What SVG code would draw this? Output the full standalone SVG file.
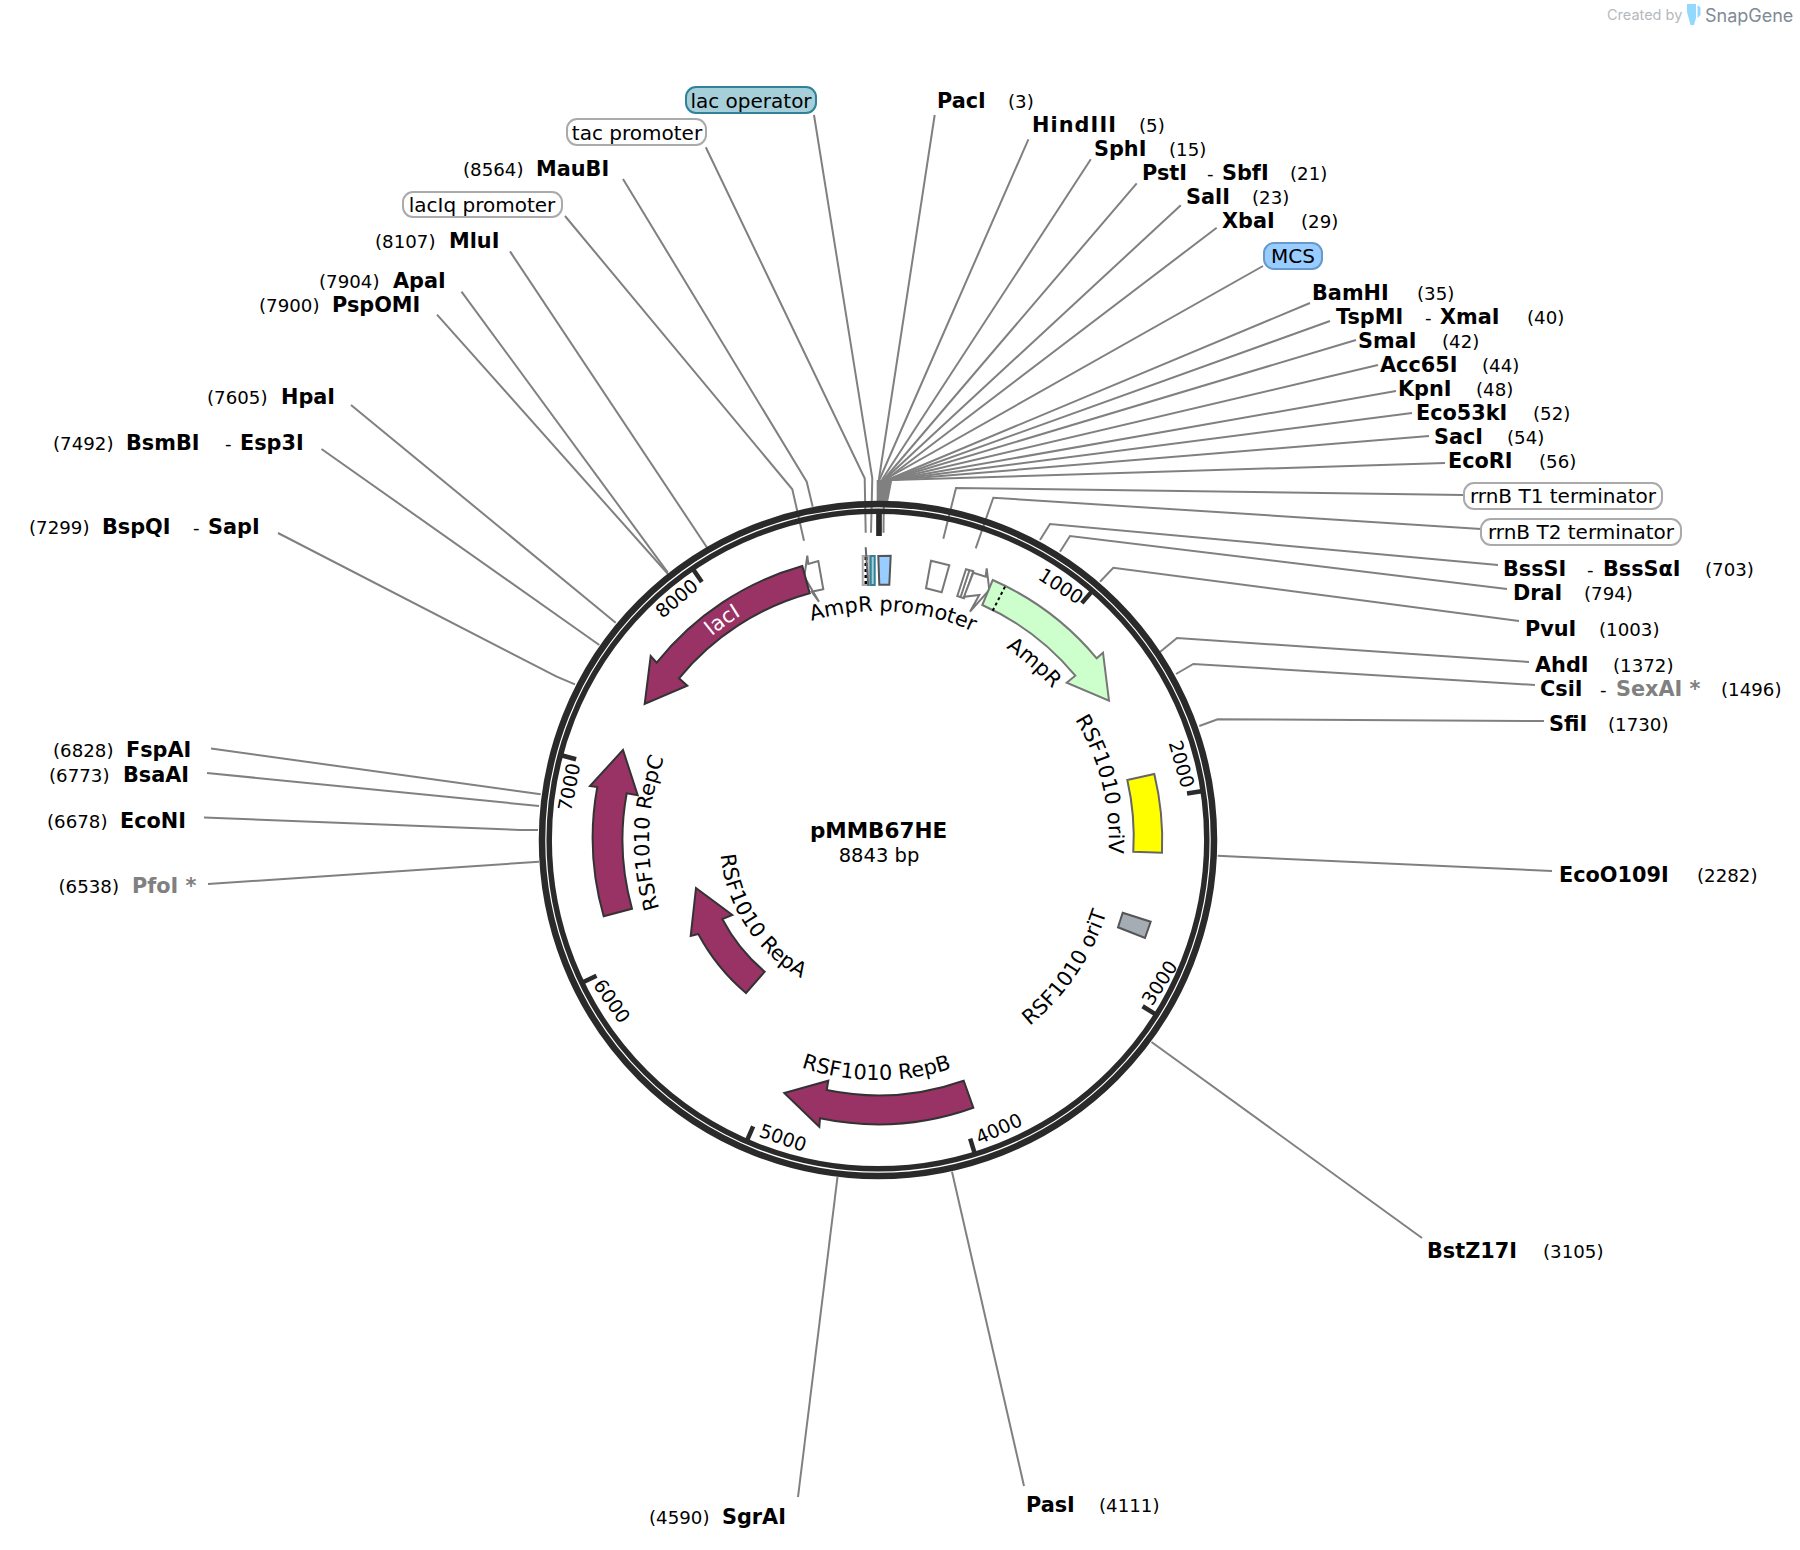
<svg xmlns="http://www.w3.org/2000/svg" width="1800" height="1550" viewBox="0 0 1800 1550">
<style>
text{font-family:"DejaVu Sans","Liberation Sans",sans-serif;fill:#000}
.b{font-weight:bold;font-size:20.8px}
.n{font-size:18.2px}
.g{fill:#808080}
.f{font-size:20.8px}
.c{font-size:20px;text-anchor:middle}
.t{font-size:19px;text-anchor:middle}
.w{font-family:Inter,"Liberation Sans",sans-serif}
.ln{fill:none;stroke:#808080;stroke-width:2}
.box{fill:#fff;stroke:#aaa;stroke-width:2}
.fe{fill:#fff;stroke:#777;stroke-width:2}
.m{fill:#993366;stroke:#333;stroke-width:2;stroke-linejoin:miter}
.tk{stroke:#2a2a2a;stroke-width:4.5}
</style>
<defs>
<path id="c229" d="M878,1069A229,229 0 0 1 878,611A229,229 0 0 1 878,1069"/>
<path id="c231" d="M878,1071A231,231 0 0 1 878,609A231,231 0 0 1 878,1071"/>
<path id="c263" d="M878,1103A263,263 0 0 1 878,577A263,263 0 0 1 878,1103"/>
<path id="cc158" d="M878,682A158,158 0 0 0 878,998A158,158 0 0 0 878,682"/>
<path id="cc240" d="M878,600A240,240 0 0 0 878,1080A240,240 0 0 0 878,600"/>
</defs>
<rect width="1800" height="1550" fill="#fff"/>

<g id="watermark">
<text class="w" x="1607" y="20" font-size="14.5" style="fill:#b5b9bd">Created by</text>
<path d="M1687,4H1696V18L1694,25H1690.5L1687,12ZM1697.5,5L1700.5,7.5V15L1697.5,18Z" fill="#93d9ff"/>
<text class="w" x="1705" y="22" font-size="18" style="fill:#7f8a96">SnapGene</text>
</g>

<g id="connectors">
<path class="ln" d="M934.7,115L878.8,480"/>
<path class="ln" d="M1028.4,139.3L879.3,480"/>
<path class="ln" d="M1090.8,159.3L881.8,480"/>
<path class="ln" d="M1136.7,183.3L883.4,480"/>
<path class="ln" d="M1180.8,205.3L883.9,480"/>
<path class="ln" d="M1216.7,227.7L885.4,480"/>
<path class="ln" d="M1263,266L884,480L883.5,532.7"/>
<path class="ln" d="M1310,303L887,480"/>
<path class="ln" d="M1330,321L888.2,480"/>
<path class="ln" d="M1356,340L888.7,480"/>
<path class="ln" d="M1378,365L889.2,480"/>
<path class="ln" d="M1396,391L890.3,480"/>
<path class="ln" d="M1412,413L891.3,480"/>
<path class="ln" d="M1429,436L891.8,480"/>
<path class="ln" d="M1445,463L892.3,480"/>
<polygon points="876.7,480 892.3,480 888,502 876.7,502" fill="#808080"/>
<path class="ln" d="M814,115L872.3,478.3L871,532.7"/>
<path class="ln" d="M705.8,147.3L864.7,478.3L865.7,532.7"/>
<path class="ln" d="M623,179L806.7,481.7L812.7,506.7"/>
<path class="ln" d="M565,216L792.3,489.3L804,540.7"/>
<path class="ln" d="M510,251.4L708,549"/>
<path class="ln" d="M461.5,291.6L667.7,572.3"/>
<path class="ln" d="M437,314.6L668,574"/>
<path class="ln" d="M351,405L615.7,622.7"/>
<path class="ln" d="M321.5,449L599.3,645"/>
<path class="ln" d="M278,533L556.7,676.7L575,684.3"/>
<path class="ln" d="M211,748.5L540.7,794.3"/>
<path class="ln" d="M207,773L539,806"/>
<path class="ln" d="M204,817.5L520,830L538,830"/>
<path class="ln" d="M208,884L539,861.7"/>
<path class="ln" d="M798,1497L837.5,1177"/>
<path class="ln" d="M1024,1486L952,1171.7"/>
<path class="ln" d="M1422,1238L1151.5,1042"/>
<path class="ln" d="M1552,871L1238,856.7L1217.7,855.7"/>
<path class="ln" d="M1544,721L1217.7,719.3L1199.3,726"/>
<path class="ln" d="M1535,685L1193.3,664L1176,674"/>
<path class="ln" d="M1529,662L1177,638L1160,652"/>
<path class="ln" d="M1519,621L1113.3,567.7L1100,581.7"/>
<path class="ln" d="M1507,589L1070,536L1060,551.7"/>
<path class="ln" d="M1498,565L1050,524L1040,540"/>
<path class="ln" d="M1481,529L993.3,497.7L975.7,548.3"/>
<path class="ln" d="M1463,495L956,488L943.3,538.7"/>
</g>

<g id="backbone">
<circle cx="878" cy="840" r="336" fill="none" stroke="#2a2a2a" stroke-width="6.5"/>
<circle cx="878" cy="840" r="328.8" fill="none" stroke="#2a2a2a" stroke-width="5.5"/>
<line x1="879" y1="513" x2="879" y2="536" stroke="#2a2a2a" stroke-width="5.7"/>
<g id="ticks">
<line class="tk" x1="878" y1="513" x2="878" y2="527.5" transform="rotate(40.71 878 840)"/>
<line class="tk" x1="878" y1="513" x2="878" y2="527.5" transform="rotate(81.43 878 840)"/>
<line class="tk" x1="878" y1="513" x2="878" y2="527.5" transform="rotate(122.14 878 840)"/>
<line class="tk" x1="878" y1="513" x2="878" y2="527.5" transform="rotate(162.85 878 840)"/>
<line class="tk" x1="878" y1="513" x2="878" y2="527.5" transform="rotate(203.55 878 840)"/>
<line class="tk" x1="878" y1="513" x2="878" y2="527.5" transform="rotate(244.26 878 840)"/>
<line class="tk" x1="878" y1="513" x2="878" y2="527.5" transform="rotate(284.97 878 840)"/>
<line class="tk" x1="878" y1="513" x2="878" y2="527.5" transform="rotate(325.68 878 840)"/>
</g>
<text class="t" dy=".36em" transform="translate(1061 586) rotate(33)">1000</text>
<text class="t" dy=".36em" transform="translate(1181.7 764) rotate(74)">2000</text>
<text class="t" dy=".36em" transform="translate(1159.5 982.7) rotate(-57)">3000</text>
<text class="t" dy=".36em" transform="translate(998.8 1128.5) rotate(-24)">4000</text>
<text class="t" dy=".36em" transform="translate(783 1137.7) rotate(19)">5000</text>
<text class="t" dy=".36em" transform="translate(612 1001) rotate(55)">6000</text>
<text class="t" dy=".36em" transform="translate(569 787) rotate(-79)">7000</text>
<text class="t" dy=".36em" transform="translate(676.7 598.3) rotate(-40)">8000</text>
</g>

<g id="feature-lacIq-promoter"><polygon class="fe" points="807.3,555.7 808.3,564 818.3,561 823.3,589.3 811.7,591.7 819,601.7 804.3,576.7"/></g>
<g id="feature-lacI"><path class="m" d="M802.3,566A284,284 0 0 0 656.7,662.7L650.7,656L644.7,704L687.3,685.7L679,678.3A256,256 0 0 1 809.7,593.3Z"/>
<text class="f" style="fill:#fff" text-anchor="middle"><textPath href="#c263" startOffset="40.2%">lacI</textPath></text></g>
<g id="feature-tac-promoter">
<rect x="862.7" y="556" width="6.6" height="29" fill="#fff" stroke="#aaa" stroke-width="2"/>
<line x1="866" y1="557" x2="866" y2="584" stroke="#000" stroke-width="3" stroke-dasharray="3 3"/>
<line x1="865.7" y1="547.3" x2="868.3" y2="586" stroke="#666" stroke-width="2"/></g>
<g id="feature-lac-operator"><rect x="870.7" y="556" width="4" height="29" fill="#a6cfd9" stroke="#2f8299" stroke-width="2"/></g>
<g id="feature-MCS"><polygon points="878.3,556 890.7,555.7 889.3,584.7 879.3,584.7" fill="#99ccff" stroke="#555" stroke-width="2"/></g>
<g id="feature-rrnB-T1"><polygon class="fe" points="931,560.7 949.3,565.3 941.7,592.3 926,588.3"/></g>
<g id="feature-rrnB-T2"><polygon class="fe" points="966,569.3 973.3,571.3 964,598.3 957.3,596"/><line x1="969.3" y1="570.7" x2="960.7" y2="596.7" stroke="#777" stroke-width="2"/></g>
<g id="feature-AmpR-promoter"><polygon class="fe" points="973.3,572.7 985.7,576.7 986.7,568.3 989.3,590 970,611.7 979.3,595 964,596.7"/>
<text class="f" text-anchor="middle"><textPath href="#c229" startOffset="51.06%">AmpR promoter</textPath></text></g>
<g id="feature-AmpR"><path d="M992.7,580A284,284 0 0 1 1096.7,658.3L1103,652.7L1109,700.7L1066.7,682.7L1075.3,675.7A256,256 0 0 0 982.3,605Z" fill="#ccffcc" stroke="#777" stroke-width="2"/>
<line x1="1005" y1="586.7" x2="992.7" y2="610.7" stroke="#000" stroke-width="2" stroke-dasharray="3 3"/>
<text class="f" text-anchor="middle"><textPath href="#c231" startOffset="61.5%">AmpR</textPath></text></g>
<g id="feature-oriV"><path d="M1127.3,780L1154.3,774A284,284 0 0 1 1162,852.7L1133.3,851.7A256,256 0 0 0 1127.3,780Z" fill="#ffff00" stroke="#666" stroke-width="2"/>
<text class="f" text-anchor="middle"><textPath href="#c231" startOffset="71.1%">RSF1010 oriV</textPath></text></g>
<g id="feature-oriT"><polygon points="1122.7,912.7 1150.7,921.7 1145,938 1118,927.3" fill="#a6acb3" stroke="#555" stroke-width="2"/>
<text class="f" text-anchor="middle"><textPath href="#cc240" startOffset="65.5%">RSF1010 oriT</textPath></text></g>
<g id="feature-RepB"><path class="m" d="M973.3,1107.7A284,284 0 0 1 820,1118.3L819.3,1126.7L784.3,1093L828.3,1080.7L826.7,1090A256,256 0 0 0 963.7,1080.7Z"/>
<text class="f" text-anchor="middle"><textPath href="#cc240" startOffset="49.9%">RSF1010 RepB</textPath></text></g>
<g id="feature-RepA"><path class="m" d="M746,993A202,202 0 0 1 698.3,934L690.7,936L696,888L732.3,915L722.3,919A174,174 0 0 0 764.7,971.7Z"/>
<text class="f" text-anchor="middle"><textPath href="#cc158" startOffset="34.2%">RSF1010 RepA</textPath></text></g>
<g id="feature-RepC"><path class="m" d="M603.7,916.3A284,284 0 0 1 597.3,787L590,786L623,750L637.7,795.3L626.7,793.3A256,256 0 0 0 632,908.7Z"/>
<text class="f" text-anchor="middle"><textPath href="#c229" startOffset="25.5%">RSF1010 RepC</textPath></text></g>

<g id="title">
<text x="878.5" y="838" text-anchor="middle" font-size="21.5" font-weight="bold">pMMB67HE</text>
<text x="879" y="862" text-anchor="middle" font-size="19.5">8843 bp</text>
</g>

<g id="label-lac-operator"><rect x="686" y="87" width="130" height="26" rx="10" fill="#a6cfd9" stroke="#2f8299" stroke-width="2"/><text class="c" x="751" y="108">lac operator</text></g>
<g id="label-tac-promoter"><rect class="box" x="567" y="119" width="139" height="26" rx="10"/><text class="c" x="637" y="140">tac promoter</text></g>
<g id="label-lacIq-promoter"><rect class="box" x="403" y="192" width="159" height="25" rx="10"/><text class="c" x="482" y="212">lacIq promoter</text></g>
<g id="label-MCS"><rect x="1264" y="243" width="58" height="26" rx="10" fill="#99ccff" stroke="#6699cc" stroke-width="2"/><text class="c" x="1293" y="263">MCS</text></g>
<g id="label-rrnB-T1"><rect class="box" x="1464" y="483" width="198" height="26" rx="10"/><text class="c" x="1563" y="503">rrnB T1 terminator</text></g>
<g id="label-rrnB-T2"><rect class="box" x="1481" y="519" width="200" height="26" rx="10"/><text class="c" x="1581" y="539">rrnB T2 terminator</text></g>

<g id="site-PacI"><text class="b" x="937" y="108">PacI</text><text class="n" x="1008" y="108">(3)</text></g>
<g id="site-HindIII"><text class="b" x="1032" y="132" textLength="84">HindIII</text><text class="n" x="1139" y="132">(5)</text></g>
<g id="site-SphI"><text class="b" x="1094" y="156">SphI</text><text class="n" x="1169" y="156">(15)</text></g>
<g id="site-PstI"><text class="b" x="1142" y="180">PstI</text><text class="n" x="1207" y="180">-</text><text class="b" x="1222" y="180">SbfI</text><text class="n" x="1290" y="180">(21)</text></g>
<g id="site-SalI"><text class="b" x="1186" y="204">SalI</text><text class="n" x="1252" y="204">(23)</text></g>
<g id="site-XbaI"><text class="b" x="1222" y="228">XbaI</text><text class="n" x="1301" y="228">(29)</text></g>
<g id="site-BamHI"><text class="b" x="1312" y="300">BamHI</text><text class="n" x="1417" y="300">(35)</text></g>
<g id="site-TspMI"><text class="b" x="1336" y="324">TspMI</text><text class="n" x="1425" y="324">-</text><text class="b" x="1440" y="324">XmaI</text><text class="n" x="1527" y="324">(40)</text></g>
<g id="site-SmaI"><text class="b" x="1358" y="348">SmaI</text><text class="n" x="1442" y="348">(42)</text></g>
<g id="site-Acc65I"><text class="b" x="1380" y="372">Acc65I</text><text class="n" x="1482" y="372">(44)</text></g>
<g id="site-KpnI"><text class="b" x="1398" y="396">KpnI</text><text class="n" x="1476" y="396">(48)</text></g>
<g id="site-Eco53kI"><text class="b" x="1416" y="420">Eco53kI</text><text class="n" x="1533" y="420">(52)</text></g>
<g id="site-SacI"><text class="b" x="1434" y="444">SacI</text><text class="n" x="1507" y="444">(54)</text></g>
<g id="site-EcoRI"><text class="b" x="1448" y="468">EcoRI</text><text class="n" x="1539" y="468">(56)</text></g>
<g id="site-BssSI"><text class="b" x="1503" y="576">BssSI</text><text class="n" x="1587" y="576">-</text><text class="b" x="1603" y="576">BssSαI</text><text class="n" x="1705" y="576">(703)</text></g>
<g id="site-DraI"><text class="b" x="1513" y="600">DraI</text><text class="n" x="1584" y="600">(794)</text></g>
<g id="site-PvuI"><text class="b" x="1525" y="636">PvuI</text><text class="n" x="1599" y="636">(1003)</text></g>
<g id="site-AhdI"><text class="b" x="1535" y="672">AhdI</text><text class="n" x="1613" y="672">(1372)</text></g>
<g id="site-CsiI"><text class="b" x="1540" y="696">CsiI</text><text class="n" x="1600" y="696">-</text><text class="b g" x="1616" y="696">SexAI *</text><text class="n" x="1721" y="696">(1496)</text></g>
<g id="site-SfiI"><text class="b" x="1549" y="731">SfiI</text><text class="n" x="1608" y="731">(1730)</text></g>
<g id="site-EcoO109I"><text class="b" x="1559" y="882">EcoO109I</text><text class="n" x="1697" y="882">(2282)</text></g>
<g id="site-BstZ17I"><text class="b" x="1427" y="1258">BstZ17I</text><text class="n" x="1543" y="1258">(3105)</text></g>
<g id="site-PasI"><text class="b" x="1026" y="1512">PasI</text><text class="n" x="1099" y="1512">(4111)</text></g>
<g id="site-SgrAI"><text class="n" x="649" y="1524">(4590)</text><text class="b" x="722" y="1524">SgrAI</text></g>
<g id="site-PfoI"><text class="n" x="58.5" y="893">(6538)</text><text class="b g" x="132" y="893">PfoI *</text></g>
<g id="site-EcoNI"><text class="n" x="47" y="828">(6678)</text><text class="b" x="120" y="828">EcoNI</text></g>
<g id="site-BsaAI"><text class="n" x="49" y="782">(6773)</text><text class="b" x="123" y="782">BsaAI</text></g>
<g id="site-FspAI"><text class="n" x="53" y="757">(6828)</text><text class="b" x="126" y="757">FspAI</text></g>
<g id="site-BspQI"><text class="n" x="29" y="534">(7299)</text><text class="b" x="102" y="534">BspQI</text><text class="n" x="193" y="534">-</text><text class="b" x="208" y="534">SapI</text></g>
<g id="site-BsmBI"><text class="n" x="53" y="450">(7492)</text><text class="b" x="126" y="450">BsmBI</text><text class="n" x="225" y="450">-</text><text class="b" x="240" y="450">Esp3I</text></g>
<g id="site-HpaI"><text class="n" x="207" y="404">(7605)</text><text class="b" x="281" y="404">HpaI</text></g>
<g id="site-PspOMI"><text class="n" x="259" y="312">(7900)</text><text class="b" x="332" y="312">PspOMI</text></g>
<g id="site-ApaI"><text class="n" x="319" y="288">(7904)</text><text class="b" x="393" y="288">ApaI</text></g>
<g id="site-MluI"><text class="n" x="375" y="248">(8107)</text><text class="b" x="449" y="248">MluI</text></g>
<g id="site-MauBI"><text class="n" x="463" y="176">(8564)</text><text class="b" x="536" y="176">MauBI</text></g>
</svg>
